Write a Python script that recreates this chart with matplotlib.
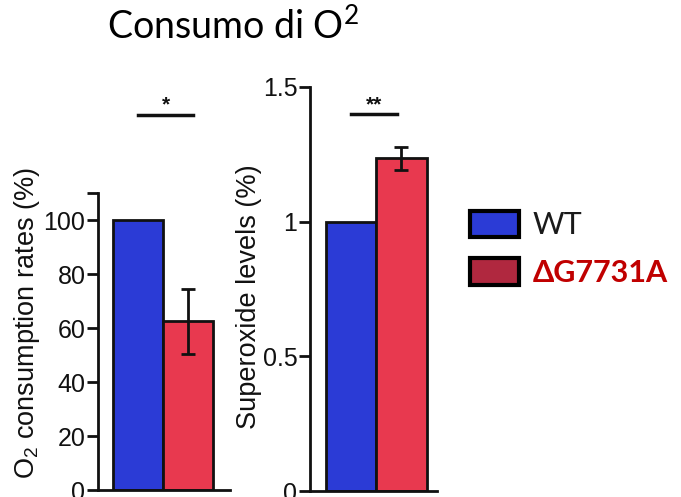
import matplotlib
matplotlib.use('Agg')
import matplotlib.pyplot as plt
from matplotlib.patches import Patch

plt.rcParams['font.family'] = ['Liberation Sans', 'DejaVu Sans']
plt.rcParams['mathtext.default'] = 'regular'

groups = ['WT', 'ΔG7731A']
o2_rates = [100, 62.5]
o2_err = [0, 12]
superoxide = [1.0, 1.235]
superoxide_err = [0, 0.043]

bar_colors = ['#2b3bd6', '#e8394f']
legend_colors = ['#2b3bd6', '#b0283f']
ink = '#111111'

fig = plt.figure(figsize=(6.81, 4.97), dpi=100)


def style_axis(ax):
    for side in ['top', 'right']:
        ax.spines[side].set_visible(False)
    for side in ['left', 'bottom']:
        ax.spines[side].set_linewidth(2)
        ax.spines[side].set_color(ink)
    ax.tick_params(axis='y', direction='out', length=8, width=2, pad=1,
                   labelsize=18, colors=ink)
    ax.tick_params(axis='x', bottom=False, labelbottom=False)


def sig_bar(ax, x0, x1, y, stars):
    ax.plot([x0, x1], [y, y], color=ink, lw=2.5, clip_on=False)
    ax.text((x0 + x1) / 2, y, stars, ha='center', va='bottom', fontsize=15,
            fontweight='bold', color=ink, clip_on=False)


# ossigeno consumato
ax1 = fig.add_axes([0.1439, 0.014, 0.194, 0.5976])
ax1.bar([0, 1], o2_rates, width=1, color=bar_colors, edgecolor=ink, linewidth=2)
ax1.errorbar([1], o2_rates[1:], yerr=o2_err[1:], fmt='none', ecolor=ink,
             elinewidth=2, capsize=5, capthick=2)
ax1.set_xlim(-0.8, 1.84)
ax1.set_ylim(0, 110)
ax1.set_yticks([0, 20, 40, 60, 80, 100, 110])
ax1.set_yticklabels(['0', '20', '40', '60', '80', '100', ''])
style_axis(ax1)
sig_bar(ax1, 0, 1.1, 139, '*')

# superossido
ax2 = fig.add_axes([0.455, 0.012, 0.1865, 0.813])
ax2.bar([0, 1], superoxide, width=1, color=bar_colors, edgecolor=ink, linewidth=2)
ax2.errorbar([1], superoxide[1:], yerr=superoxide_err[1:], fmt='none', ecolor=ink,
             elinewidth=2, capsize=5, capthick=2)
ax2.set_xlim(-0.81, 1.7)
ax2.set_ylim(0, 1.5)
ax2.set_yticks([0, 0.5, 1, 1.5])
ax2.set_yticklabels(['0', '0.5', '1', '1.5'])
style_axis(ax2)
sig_bar(ax2, 0, 0.92, 1.40, '**')

fig.text(0.040, 0.35, 'O$_2$ consumption rates (%)', rotation=90, ha='center',
         va='center', fontsize=19.5, color=ink)
fig.text(0.366, 0.404, 'Superoxide levels (%)', rotation=90, ha='center',
         va='center', fontsize=19.5, color=ink)

fig.text(0.157, 0.922, 'Consumo di O$^2$', fontsize=27,
         family=['Lato', 'DejaVu Sans'], color='black')

handles = [Patch(facecolor=c, edgecolor='black', linewidth=3) for c in legend_colors]
leg = fig.legend(handles, groups, loc='upper left', bbox_to_anchor=(0.668, 0.607),
                 frameon=False, borderpad=0, handlelength=1.6, handleheight=0.95,
                 handletextpad=0.45, labelspacing=0.62,
                 prop={'family': ['Lato', 'DejaVu Sans'], 'size': 22})
texts = leg.get_texts()
texts[0].set_color('#1a1a1a')
texts[1].set_color('#c00000')
texts[1].set_fontweight('bold')

fig.savefig('out.png', dpi=100)
